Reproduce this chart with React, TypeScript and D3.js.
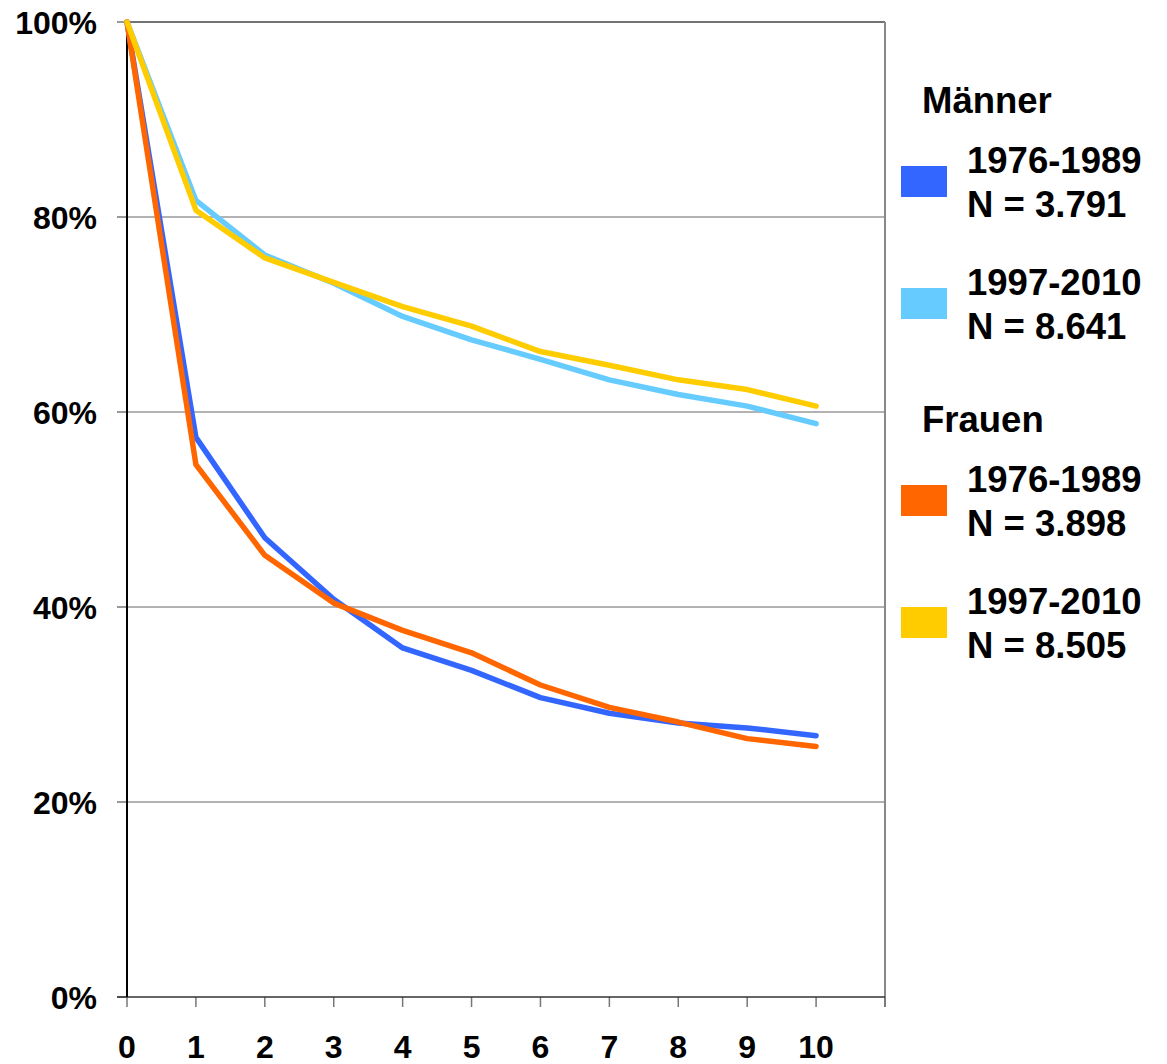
import React from "react";
import * as d3 from "d3";

const years = [0, 1, 2, 3, 4, 5, 6, 7, 8, 9, 10];
const maenner7689 = [100, 57.4, 47.1, 40.8, 35.8, 33.5, 30.7, 29.1, 28.1, 27.6, 26.8];
const maenner9710 = [100, 81.7, 76.1, 73.2, 69.8, 67.4, 65.4, 63.3, 61.8, 60.6, 58.8];
const frauen7689 = [100, 54.6, 45.3, 40.4, 37.6, 35.3, 32.0, 29.7, 28.2, 26.5, 25.7];
const frauen9710 = [100, 80.7, 75.8, 73.3, 70.8, 68.8, 66.2, 64.8, 63.3, 62.3, 60.6];
const yTicks = [0, 20, 40, 60, 80, 100];
const xTicks = [0, 1, 2, 3, 4, 5, 6, 7, 8, 9, 10, 11];
const xLabels = [0, 1, 2, 3, 4, 5, 6, 7, 8, 9, 10];

const series = [
  { name: "Männer 1976-1989", values: maenner7689, color: "#3366FF" },
  { name: "Männer 1997-2010", values: maenner9710, color: "#66CCFF" },
  { name: "Frauen 1976-1989", values: frauen7689, color: "#FF6600" },
  { name: "Frauen 1997-2010", values: frauen9710, color: "#FFCC00" },
];

const legendGroups = [
  {
    title: "Männer",
    items: [
      { l1: "1976-1989", l2: "N = 3.791", color: "#3366FF" },
      { l1: "1997-2010", l2: "N = 8.641", color: "#66CCFF" },
    ],
  },
  {
    title: "Frauen",
    items: [
      { l1: "1976-1989", l2: "N = 3.898", color: "#FF6600" },
      { l1: "1997-2010", l2: "N = 8.505", color: "#FFCC00" },
    ],
  },
];

export default function App() {
  const W = 1167, H = 1064;
  const x = d3.scaleLinear().domain([0, 11]).range([127, 885]);
  const y = d3.scaleLinear().domain([0, 100]).range([997, 22]);
  const line = d3
    .line<number>()
    .x((_, i) => x(years[i]))
    .y((d) => y(d));
  const font = "'Liberation Sans', Arial, sans-serif";

  return (
    <svg
      width={W}
      height={H}
      style={{ position: "absolute", left: 0, top: 0, background: "#fff" }}
      fontFamily={font}
    >
      <rect x={0} y={0} width={W} height={H} fill="#fff" />
      {yTicks
        .filter((t) => t > 0 && t < 100)
        .map((t) => (
          <line key={t} x1={x(0)} x2={x(11)} y1={y(t)} y2={y(t)} stroke="#666" strokeWidth={1} />
        ))}
      <line x1={x(0)} x2={x(11)} y1={y(100)} y2={y(100)} stroke="#444" strokeWidth={1.5} />
      <line x1={x(11)} x2={x(11)} y1={y(100)} y2={y(0) + 10} stroke="#888" strokeWidth={2} />
      {yTicks.map((t) => (
        <line key={t} x1={x(0) - 10} x2={x(0)} y1={y(t)} y2={y(t)} stroke="#777" strokeWidth={1.5} />
      ))}
      {xTicks.map((t) => (
        <line key={t} x1={x(t)} x2={x(t)} y1={y(0)} y2={y(0) + 10} stroke="#777" strokeWidth={1.5} />
      ))}
      <line x1={x(0) - 10} x2={x(11)} y1={y(0)} y2={y(0)} stroke="#333" strokeWidth={1.5} />
      <line x1={x(0)} x2={x(0)} y1={y(100)} y2={y(0)} stroke="#000" strokeWidth={2} />

      {series.map((s) => (
        <path
          key={s.name}
          d={line(s.values) || ""}
          fill="none"
          stroke={s.color}
          strokeWidth={5.5}
          strokeLinecap="round"
          strokeLinejoin="round"
        />
      ))}

      {yTicks.map((t) => (
        <text key={t} x={97} y={y(t) + 12} textAnchor="end" fontSize={32} fontWeight="bold" fill="#000">
          {t}%
        </text>
      ))}
      {xLabels.map((t) => (
        <text key={t} x={x(t)} y={1058} textAnchor="middle" fontSize={32} fontWeight="bold" fill="#000">
          {t}
        </text>
      ))}

      {legendGroups.map((g, gi) => {
        const base = gi === 0 ? 113 : 432;
        return (
          <g key={g.title}>
            <text x={922} y={base} fontSize={36.5} fontWeight="bold" fill="#000">
              {g.title}
            </text>
            {g.items.map((it, ii) => {
              const top = base + 60 + ii * 122;
              return (
                <g key={it.l2}>
                  <rect x={901} y={top - 7} width={46} height={31} fill={it.color} />
                  <text x={967} y={top} fontSize={36.5} fontWeight="bold" fill="#000">
                    {it.l1}
                  </text>
                  <text x={967} y={top + 44} fontSize={36.5} fontWeight="bold" fill="#000">
                    {it.l2}
                  </text>
                </g>
              );
            })}
          </g>
        );
      })}
    </svg>
  );
}
